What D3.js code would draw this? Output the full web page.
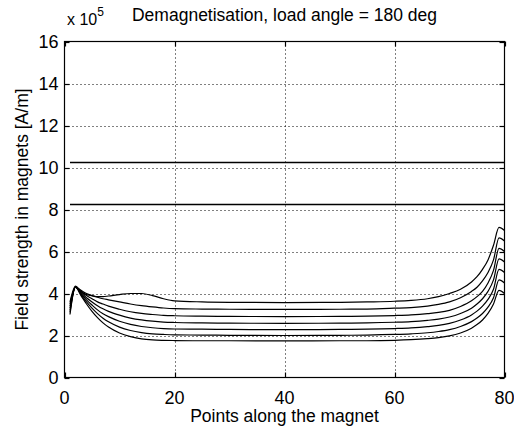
<!DOCTYPE html>
<html>
<head>
<meta charset="utf-8">
<script src="https://cdn.jsdelivr.net/npm/d3@7"></script>
<style>
  body { margin: 0; background: #fff; }
  svg { display: block; }
  text { font-family: "Liberation Sans", Arial, sans-serif; fill: #000; }
</style>
</head>
<body>
<svg id="chart" width="514" height="427"></svg>
<script>
// points along the magnet (sample positions)
var xPoints = [1, 2, 3, 4, 5, 6, 7, 8, 10, 12, 14, 16, 18, 20, 25, 30, 40, 50, 55, 60, 63, 66, 68, 70, 72, 74, 75, 76, 77, 78, 79, 80];

// field strength, x 10^5 A/m, one array per load step (top to bottom)
var curve1 = [3.6, 4.35, 4.1, 3.95, 3.9, 3.85, 3.85, 3.88, 3.95, 4.0, 4.0, 3.9, 3.75, 3.65, 3.6, 3.58, 3.57, 3.58, 3.6, 3.63, 3.67, 3.75, 3.85, 4.0, 4.2, 4.55, 4.8, 5.15, 5.6, 6.3, 7.15, 7.0];
var curve2 = [3.5, 4.3, 4.15, 4.0, 3.9, 3.82, 3.75, 3.7, 3.6, 3.5, 3.42, 3.36, 3.31, 3.28, 3.26, 3.25, 3.24, 3.25, 3.26, 3.3, 3.33, 3.4, 3.48, 3.6, 3.8, 4.1, 4.3, 4.6, 5.0, 5.6, 6.65, 6.5];
var curve3 = [3.4, 4.3, 4.1, 3.9, 3.75, 3.6, 3.5, 3.4, 3.25, 3.13, 3.05, 3.0, 2.96, 2.94, 2.92, 2.91, 2.9, 2.91, 2.92, 2.95, 2.98, 3.04, 3.1, 3.2, 3.38, 3.65, 3.85, 4.1, 4.5, 5.1, 6.15, 6.0];
var curve4 = [3.3, 4.3, 4.05, 3.8, 3.6, 3.42, 3.27, 3.15, 2.97, 2.83, 2.74, 2.68, 2.64, 2.62, 2.6, 2.59, 2.58, 2.59, 2.6, 2.63, 2.66, 2.72, 2.78, 2.88, 3.05, 3.3, 3.5, 3.75, 4.1, 4.65, 5.65, 5.5];
var curve5 = [3.2, 4.3, 4.0, 3.7, 3.45, 3.22, 3.04, 2.9, 2.68, 2.53, 2.43, 2.37, 2.33, 2.31, 2.3, 2.29, 2.28, 2.29, 2.3, 2.33, 2.36, 2.42, 2.48, 2.58, 2.74, 2.98, 3.16, 3.4, 3.72, 4.2, 5.15, 5.0];
var curve6 = [3.1, 4.3, 3.95, 3.6, 3.3, 3.04, 2.82, 2.65, 2.4, 2.24, 2.14, 2.08, 2.05, 2.03, 2.02, 2.01, 2.0, 2.01, 2.02, 2.05, 2.08, 2.13, 2.19, 2.28, 2.43, 2.66, 2.83, 3.05, 3.35, 3.8, 4.65, 4.5];
var curve7 = [3.0, 4.3, 3.9, 3.5, 3.15, 2.85, 2.6, 2.4, 2.12, 1.95, 1.84, 1.79, 1.77, 1.76, 1.75, 1.75, 1.74, 1.75, 1.75, 1.77, 1.8, 1.85, 1.9, 1.98, 2.12, 2.35, 2.52, 2.74, 3.05, 3.5, 4.15, 4.0];

// horizontal reference levels
var levelX = [1, 80];
var levels = [10.27, 8.27];

var xTicks = [0, 20, 40, 60, 80];
var yTicks = [0, 2, 4, 6, 8, 10, 12, 14, 16];

var titleText = "Demagnetisation, load angle = 180 deg";
var xLabel = "Points along the magnet";
var yLabel = "Field strength in magnets [A/m]";

var margin = {left: 64.5, right: 9.5, top: 41.5, bottom: 49.5};
var width = 514, height = 427;

var svg = d3.select("#chart");

var x = d3.scaleLinear().domain([0, 80]).range([margin.left, width - margin.right]);
var y = d3.scaleLinear().domain([0, 16]).range([height - margin.bottom, margin.top]);

// dotted grid
var grid = svg.append("g").attr("stroke", "#000").attr("stroke-width", 1).attr("stroke-dasharray", "1,3");
grid.selectAll("line.gx")
    .data(xTicks.slice(1, -1))
    .join("line")
    .attr("x1", d => Math.round(x(d)) + 0.5).attr("x2", d => Math.round(x(d)) + 0.5)
    .attr("y1", y(16)).attr("y2", y(0));
grid.selectAll("line.gy")
    .data(yTicks.slice(1, -1))
    .join("line")
    .attr("y1", d => Math.round(y(d)) + 0.5).attr("y2", d => Math.round(y(d)) + 0.5)
    .attr("x1", x(0)).attr("x2", x(80));

// curves
var line = d3.line()
    .x((d, i) => x(xPoints[i]))
    .y(d => y(d))
    .curve(d3.curveMonotoneX);

var series = [curve1, curve2, curve3, curve4, curve5, curve6, curve7];
svg.append("g")
    .selectAll("path")
    .data(series)
    .join("path")
    .attr("d", d => line(d))
    .attr("fill", "none")
    .attr("stroke", "#000")
    .attr("stroke-width", 1.2);

svg.append("g")
    .selectAll("line")
    .data(levels)
    .join("line")
    .attr("x1", x(levelX[0])).attr("x2", x(levelX[1]))
    .attr("y1", d => Math.round(y(d)) + 0.5).attr("y2", d => Math.round(y(d)) + 0.5)
    .attr("stroke", "#000")
    .attr("stroke-width", 1.3);

// axes box with inward ticks on all sides
var tick = 5;
var axes = svg.append("g").attr("stroke", "#000").attr("stroke-width", 1.2);
axes.append("rect")
    .attr("x", x(0)).attr("y", y(16))
    .attr("width", x(80) - x(0)).attr("height", y(0) - y(16))
    .attr("fill", "none");
xTicks.forEach(function(t) {
    var px = Math.round(x(t)) + 0.5;
    axes.append("line").attr("x1", px).attr("x2", px).attr("y1", y(0)).attr("y2", y(0) - tick);
    axes.append("line").attr("x1", px).attr("x2", px).attr("y1", y(16)).attr("y2", y(16) + tick);
});
yTicks.forEach(function(t) {
    var py = Math.round(y(t)) + 0.5;
    axes.append("line").attr("y1", py).attr("y2", py).attr("x1", x(0)).attr("x2", x(0) + tick);
    axes.append("line").attr("y1", py).attr("y2", py).attr("x1", x(80)).attr("x2", x(80) - tick);
});

// tick labels
svg.append("g")
    .selectAll("text")
    .data(xTicks)
    .join("text")
    .attr("x", d => x(d))
    .attr("y", y(0) + 26)
    .attr("text-anchor", "middle")
    .attr("font-size", 18)
    .text(d => d);
svg.append("g")
    .selectAll("text")
    .data(yTicks)
    .join("text")
    .attr("x", x(0) - 6)
    .attr("y", d => y(d) + 6.5)
    .attr("text-anchor", "end")
    .attr("font-size", 18)
    .text(d => d);

// exponent marker
var expo = svg.append("text").attr("x", 67).attr("y", 25).attr("font-size", 16);
expo.append("tspan").text("x 10");
expo.append("tspan").attr("dy", -9).attr("font-size", 12).text("5");

svg.append("text")
    .attr("x", (x(0) + x(80)) / 2)
    .attr("y", 21)
    .attr("text-anchor", "middle")
    .attr("font-size", 17.5)
    .text(titleText);

svg.append("text")
    .attr("x", (x(0) + x(80)) / 2)
    .attr("y", 422)
    .attr("text-anchor", "middle")
    .attr("font-size", 17.5)
    .text(xLabel);

svg.append("text")
    .attr("transform", "translate(28," + ((y(0) + y(16)) / 2) + ") rotate(-90)")
    .attr("text-anchor", "middle")
    .attr("font-size", 17.5)
    .text(yLabel);
</script>
</body>
</html>
